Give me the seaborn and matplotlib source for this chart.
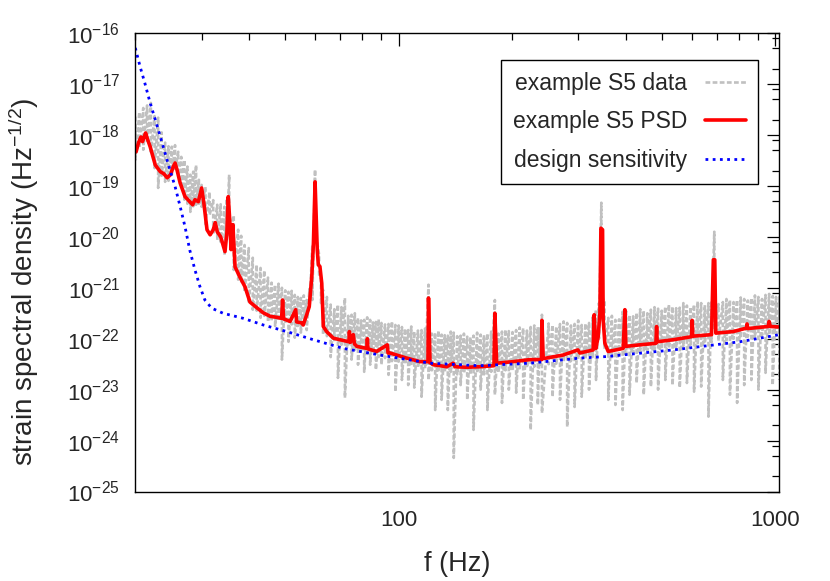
import numpy as np
import pandas as pd
import matplotlib
matplotlib.use("Agg")
import matplotlib.pyplot as plt
import seaborn as sns
from matplotlib.ticker import (FixedLocator, FixedFormatter, LogLocator,
                               NullFormatter, LogFormatterSciNotation)

# ----------------------------------
# Data
# frequencies in Hz, strain values stored as log10(strain / Hz^-1/2)
# ----------------------------------

design_freq = [20, 20.6, 21.2, 21.9, 22.6, 23.3, 24.0, 24.7, 25.5, 26.3, 27.1,
               27.9, 28.8, 29.7, 30.6, 31.9, 34.2, 38.7, 43.7, 50.5, 59.4,
               71.3, 89.2, 121, 164, 223, 303, 356, 535, 804, 1024]
design_log = [-16.29, -16.66, -16.98, -17.37, -17.70, -18.03, -18.36, -18.68,
              -19.01, -19.40, -19.80, -20.26, -20.65, -20.98, -21.24, -21.40,
              -21.50, -21.60, -21.73, -21.86, -22.02, -22.19, -22.32, -22.48,
              -22.53, -22.48, -22.38, -22.35, -22.22, -22.06, -21.92]

psd_freq = [20.1, 20.4, 20.7, 20.9, 21.3, 21.5, 21.9, 22.6, 23.3, 23.8, 24.3,
            24.8, 25.2, 25.5, 25.8, 26.3, 27.1, 27.9, 28.4, 28.8, 29.4, 30.0,
            30.4, 31.0, 31.6, 32.2, 32.6, 33.0, 33.7, 34.6, 35.0, 35.3, 35.7,
            35.9, 36.3, 36.8, 37.9, 39.1, 40.3, 42.0, 43.7, 45.6, 47.5, 48.9,
            49.2, 49.5, 51.5, 53.3, 53.6, 55.3, 55.8, 57.0, 57.9, 58.8, 59.4,
            60.0, 60.8, 61.2, 61.8, 62.5, 63.1, 64.4, 67.1, 69.9, 73.8, 74.0,
            74.5, 75.8, 76.3, 77.4, 82.3, 82.6, 82.9, 87.4, 93.3, 93.7, 94.8,
            105.0, 113.9, 119.6, 120.0, 121.1, 123.5, 134.1, 139.6, 141.1,
            151.5, 164.3, 179.0, 180.0, 182.0, 201.4, 223.0, 239.3, 240.0,
            241.9, 273.3, 299.0, 302.6, 328.2, 330.2, 333.7, 338.4, 342.0,
            344.1, 347.6, 348.9, 352.5, 359.7, 394.3, 398.4, 400.8, 436.6,
            481.5, 483.6, 485.3, 535.1, 598.8, 601.0, 603.5, 676.5, 684.0,
            690.0, 694.4, 771.8, 839.0, 840.5, 844.0, 955.9, 961.7, 968.8, 1024]
psd_log = [-18.33, -18.15, -18.04, -18.13, -17.96, -18.06, -18.23, -18.59,
           -18.72, -18.76, -18.84, -18.78, -18.63, -18.55, -18.68, -18.94,
           -19.21, -19.31, -19.37, -19.27, -19.31, -19.04, -19.33, -19.86,
           -19.96, -19.86, -19.72, -19.90, -20.00, -20.29, -19.92, -19.21,
           -19.80, -20.25, -19.76, -20.59, -20.79, -20.98, -21.28, -21.39,
           -21.49, -21.56, -21.58, -21.60, -21.24, -21.61, -21.66, -21.43,
           -21.67, -21.69, -21.73, -21.53, -21.37, -20.78, -20.12, -18.92,
           -20.25, -20.55, -20.58, -20.91, -21.76, -21.86, -21.99, -22.02,
           -22.06, -21.86, -22.07, -21.92, -22.10, -22.15, -22.19, -22.00,
           -22.20, -22.25, -22.12, -22.28, -22.28, -22.38, -22.45, -22.45,
           -21.20, -22.47, -22.51, -22.55, -22.48, -22.55, -22.56, -22.55,
           -22.53, -21.50, -22.48, -22.45, -22.41, -22.41, -21.64, -22.39,
           -22.32, -22.22, -22.28, -22.22, -21.53, -22.19, -21.96, -21.50,
           -19.83, -19.86, -21.63, -22.09, -22.25, -22.19, -21.43, -22.15,
           -22.12, -22.09, -21.76, -22.06, -22.02, -21.96, -21.64, -21.95,
           -21.92, -20.45, -20.45, -21.89, -21.86, -21.79, -21.71, -21.80,
           -21.76, -21.66, -21.76, -21.77]

# raw spectrum: one stroke per frequency, from its peak (hi) down to its dip (lo)
# deep strokes
data_freq = [20, 21, 22, 23, 24, 25, 26, 27, 28, 29, 30, 31.5, 33, 34.5, 35.5,
             37.5, 39, 41, 43, 45, 47, 49, 51, 53, 55, 57, 59, 60, 61.5, 63,
             66, 69, 72, 75, 78, 81, 84, 87, 90, 94, 98, 102, 106, 110, 115,
             120, 125, 130, 135, 140, 146, 152, 158, 165, 172, 180, 188, 196,
             205, 214, 224, 234, 240, 256, 268, 280, 293, 306, 320, 334, 345,
             360, 376, 393, 410, 428, 447, 467, 488, 510, 533, 557, 582, 608,
             635, 664, 688, 725, 757, 791, 826, 863, 901, 941, 983, 1024]
data_hi_log = [-17.64, -17.47, -17.37, -17.66, -18.15, -18.23, -18.33, -18.49,
               -18.78, -18.59, -18.98, -19.12, -19.37, -19.41, -18.78, -19.86,
               -20.16, -20.41, -20.61, -20.80, -20.94, -21.00, -21.08, -21.14,
               -21.20, -21.24, -20.16, -18.68, -20.35, -21.04, -21.33, -21.33,
               -21.20, -21.53, -21.59, -21.63, -21.63, -21.67, -21.69, -21.71,
               -21.73, -21.77, -21.83, -21.86, -21.83, -20.94, -21.88, -21.92,
               -21.94, -21.88, -21.94, -21.96, -21.94, -21.92, -21.90, -21.24,
               -21.86, -21.85, -21.83, -21.79, -21.77, -21.77, -21.53, -21.73,
               -21.71, -21.69, -21.71, -21.73, -21.69, -21.43, -19.33, -21.59,
               -21.63, -21.47, -21.53, -21.49, -21.45, -21.43, -21.41, -21.37,
               -21.37, -21.39, -21.35, -21.33, -21.30, -21.30, -19.90, -21.28,
               -21.24, -21.24, -21.22, -21.20, -21.18, -21.14, -21.16, -21.18]
data_lo_log = [-18.49, -18.29, -18.33, -19.04, -18.92, -18.78, -18.78, -19.27,
               -19.51, -19.37, -19.41, -19.57, -20.06, -20.35, -19.96, -20.84,
               -21.08, -21.43, -21.59, -21.67, -21.75, -22.41, -22.06, -21.98,
               -21.88, -21.83, -21.24, -19.86, -20.75, -21.92, -22.36, -22.77,
               -23.16, -22.41, -22.51, -22.65, -22.51, -22.61, -22.51, -22.71,
               -23.04, -22.81, -22.91, -22.96, -23.14, -22.81, -23.40, -23.20,
               -23.40, -24.34, -22.91, -23.20, -23.79, -23.00, -23.40, -23.10,
               -23.26, -23.00, -23.06, -23.20, -23.79, -23.30, -23.46, -23.14,
               -23.20, -23.73, -23.34, -23.14, -23.00, -22.81, -21.24, -23.20,
               -23.30, -23.40, -23.10, -22.87, -23.10, -22.94, -23.00, -22.81,
               -22.91, -22.96, -22.87, -23.04, -22.94, -23.53, -21.83, -22.81,
               -23.10, -23.26, -22.91, -22.81, -23.00, -22.67, -22.91, -22.81]

# shallow strokes in between (the dense top of the band)
mid_freq = [20.5, 21.5, 22.5, 23.5, 24.5, 25.5, 26.5, 27.5, 28.5, 29.5, 30.7,
            32.2, 33.7, 35.0, 36.5, 38.2, 40, 42, 44, 46, 48, 50, 52, 54, 56,
            58, 62.2, 64.5, 67.5, 70.5, 73.5, 76.5, 79.5, 82.5, 85.5, 88.5, 92,
            96, 100, 104, 108, 112.5, 117.5, 122.5, 127.5, 132.5, 137.5, 143,
            149, 155, 161.5, 168.5, 176, 184, 192, 200.5, 209.5, 219, 229, 237,
            250, 262, 274, 286.5, 299.5, 313, 327, 340, 352, 368, 384.5, 401.5,
            419, 437.5, 457, 477.5, 499, 521.5, 545, 569.5, 595, 621.5, 649.5,
            676, 706, 741, 774, 808.5, 844.5, 882, 921, 962, 1003]
mid_hi_log = [-17.55, -17.42, -17.63, -17.95, -18.22, -18.20, -18.43, -18.62,
              -18.72, -18.88, -19.02, -19.28, -19.36, -19.25, -19.58, -19.98,
              -20.22, -20.55, -20.66, -20.90, -20.92, -21.05, -21.06, -21.18,
              -21.15, -21.02, -20.82, -21.18, -21.42, -21.38, -21.55, -21.50,
              -21.64, -21.58, -21.68, -21.62, -21.72, -21.66, -21.74, -21.80,
              -21.76, -21.84, -21.80, -21.90, -21.84, -21.93, -21.86, -21.95,
              -21.90, -21.97, -21.88, -21.93, -21.86, -21.90, -21.82, -21.87,
              -21.78, -21.84, -21.74, -21.80, -21.70, -21.76, -21.66, -21.74,
              -21.64, -21.70, -21.58, -21.30, -21.22, -21.55, -21.62, -21.46,
              -21.56, -21.42, -21.50, -21.38, -21.45, -21.33, -21.40, -21.30,
              -21.38, -21.27, -21.34, -21.26, -21.32, -21.22, -21.28, -21.19,
              -21.25, -21.15, -21.22, -21.12, -21.18]
mid_lo_log = [-18.25, -18.15, -18.65, -18.80, -18.90, -18.70, -19.05, -19.35,
              -19.40, -19.35, -19.75, -19.95, -20.10, -20.05, -20.65, -20.90,
              -21.30, -21.45, -21.55, -21.65, -21.65, -21.70, -21.72, -21.75,
              -21.60, -21.40, -21.30, -21.95, -22.05, -22.12, -22.15, -22.22,
              -22.25, -22.30, -22.28, -22.36, -22.38, -22.44, -22.45, -22.50,
              -22.52, -22.57, -22.58, -22.62, -22.62, -22.66, -22.65, -22.70,
              -22.68, -22.70, -22.67, -22.70, -22.65, -22.66, -22.62, -22.62,
              -22.58, -22.57, -22.55, -22.54, -22.50, -22.49, -22.45, -22.44,
              -22.40, -22.40, -22.36, -22.00, -22.20, -22.36, -22.32, -22.31,
              -22.28, -22.26, -22.23, -22.23, -22.20, -22.19, -22.16, -22.14,
              -22.12, -22.11, -22.08, -22.07, -22.04, -22.03, -22.00, -21.99,
              -21.96, -21.96, -21.93, -21.92, -21.90]

y_decades = [1e-25, 1e-24, 1e-23, 1e-22, 1e-21, 1e-20, 1e-19, 1e-18, 1e-17,
             1e-16]
x_ticks = [100, 1000]
x_tick_labels = ["100", "1000"]

# ----------------------------------
# Build tables
# ----------------------------------

design_df = pd.DataFrame({"freq": design_freq,
                          "strain": 10.0 ** np.array(design_log)})
psd_df = pd.DataFrame({"freq": psd_freq,
                       "strain": 10.0 ** np.array(psd_log)})

pair_freq = np.array(data_freq + mid_freq, dtype=float)
pair_hi = np.array(data_hi_log + mid_hi_log)
pair_lo = np.array(data_lo_log + mid_lo_log)
order = np.argsort(pair_freq, kind="stable")

stroke_freq = np.repeat(pair_freq[order], 2)
stroke_log = np.column_stack([pair_hi[order], pair_lo[order]]).ravel()
data_df = pd.DataFrame({"freq": stroke_freq,
                        "strain": 10.0 ** stroke_log})

# ----------------------------------
# Style
# ----------------------------------

sns.set_theme(style="white")
plt.rcParams["font.family"] = ["Liberation Sans", "DejaVu Sans"]
plt.rcParams["mathtext.fontset"] = "custom"
plt.rcParams["mathtext.rm"] = "Liberation Sans"
plt.rcParams["mathtext.it"] = "Liberation Sans:italic"
plt.rcParams["mathtext.bf"] = "Liberation Sans:bold"
plt.rcParams["axes.unicode_minus"] = False

fig = plt.figure(figsize=(8.3, 5.81), dpi=100)
ax = fig.add_axes([0.163, 0.154, 0.776, 0.789])

# ----------------------------------
# Plot
# ----------------------------------

sns.lineplot(data=data_df, x="freq", y="strain", ax=ax,
             sort=False, estimator=None, color="#c0c0c0",
             lw=1.9, linestyle=(0, (1.8, 0.9)), label="example S5 data")

sns.lineplot(data=psd_df, x="freq", y="strain", ax=ax,
             sort=False, estimator=None, color="#ff0000",
             lw=2.6, label="example S5 PSD")

sns.lineplot(data=design_df, x="freq", y="strain", ax=ax,
             sort=False, estimator=None, color="#0000ff",
             lw=2.0, linestyle=(0, (1, 1.6)), label="design sensitivity")

ax.set_xscale("log")
ax.set_yscale("log")
ax.set_xlim(20, 1024)
ax.set_ylim(1e-25, 1e-16)

ax.xaxis.set_major_locator(FixedLocator(x_ticks))
ax.xaxis.set_major_formatter(FixedFormatter(x_tick_labels))
ax.xaxis.set_minor_locator(LogLocator(base=10, subs=range(2, 10), numticks=20))
ax.xaxis.set_minor_formatter(NullFormatter())

ax.yaxis.set_major_locator(FixedLocator(y_decades))
ax.yaxis.set_major_formatter(LogFormatterSciNotation())
ax.yaxis.set_minor_locator(LogLocator(base=10, subs=(2, 5, 8), numticks=20))
ax.yaxis.set_minor_formatter(NullFormatter())

ax.tick_params(which="both", direction="in", top=True, right=True,
               color="black", labelsize=16)
ax.tick_params(axis="x", which="both", pad=13)
ax.tick_params(axis="y", which="both", pad=11)
ax.tick_params(which="major", length=9, width=0.9)
ax.tick_params(which="minor", length=4.8, width=0.9)

for spine in ax.spines.values():
    spine.set_color("black")
    spine.set_linewidth(1.0)

ax.set_xlabel("f (Hz)", fontsize=19.5, labelpad=15)
ax.set_ylabel("strain spectral density (Hz$^{-1/2}$)", fontsize=20)
ax.yaxis.set_label_coords(-0.146, 0.457)

leg = ax.legend(loc="upper right", bbox_to_anchor=(0.9665, 0.9418),
                borderaxespad=0, markerfirst=False, fontsize=16.5,
                handlelength=1.8, handletextpad=0.75, labelspacing=0.68,
                borderpad=0.52, fancybox=False, framealpha=1,
                edgecolor="black")
leg.get_frame().set_linewidth(1.0)

plt.savefig("out.png", dpi=100)
plt.close()
